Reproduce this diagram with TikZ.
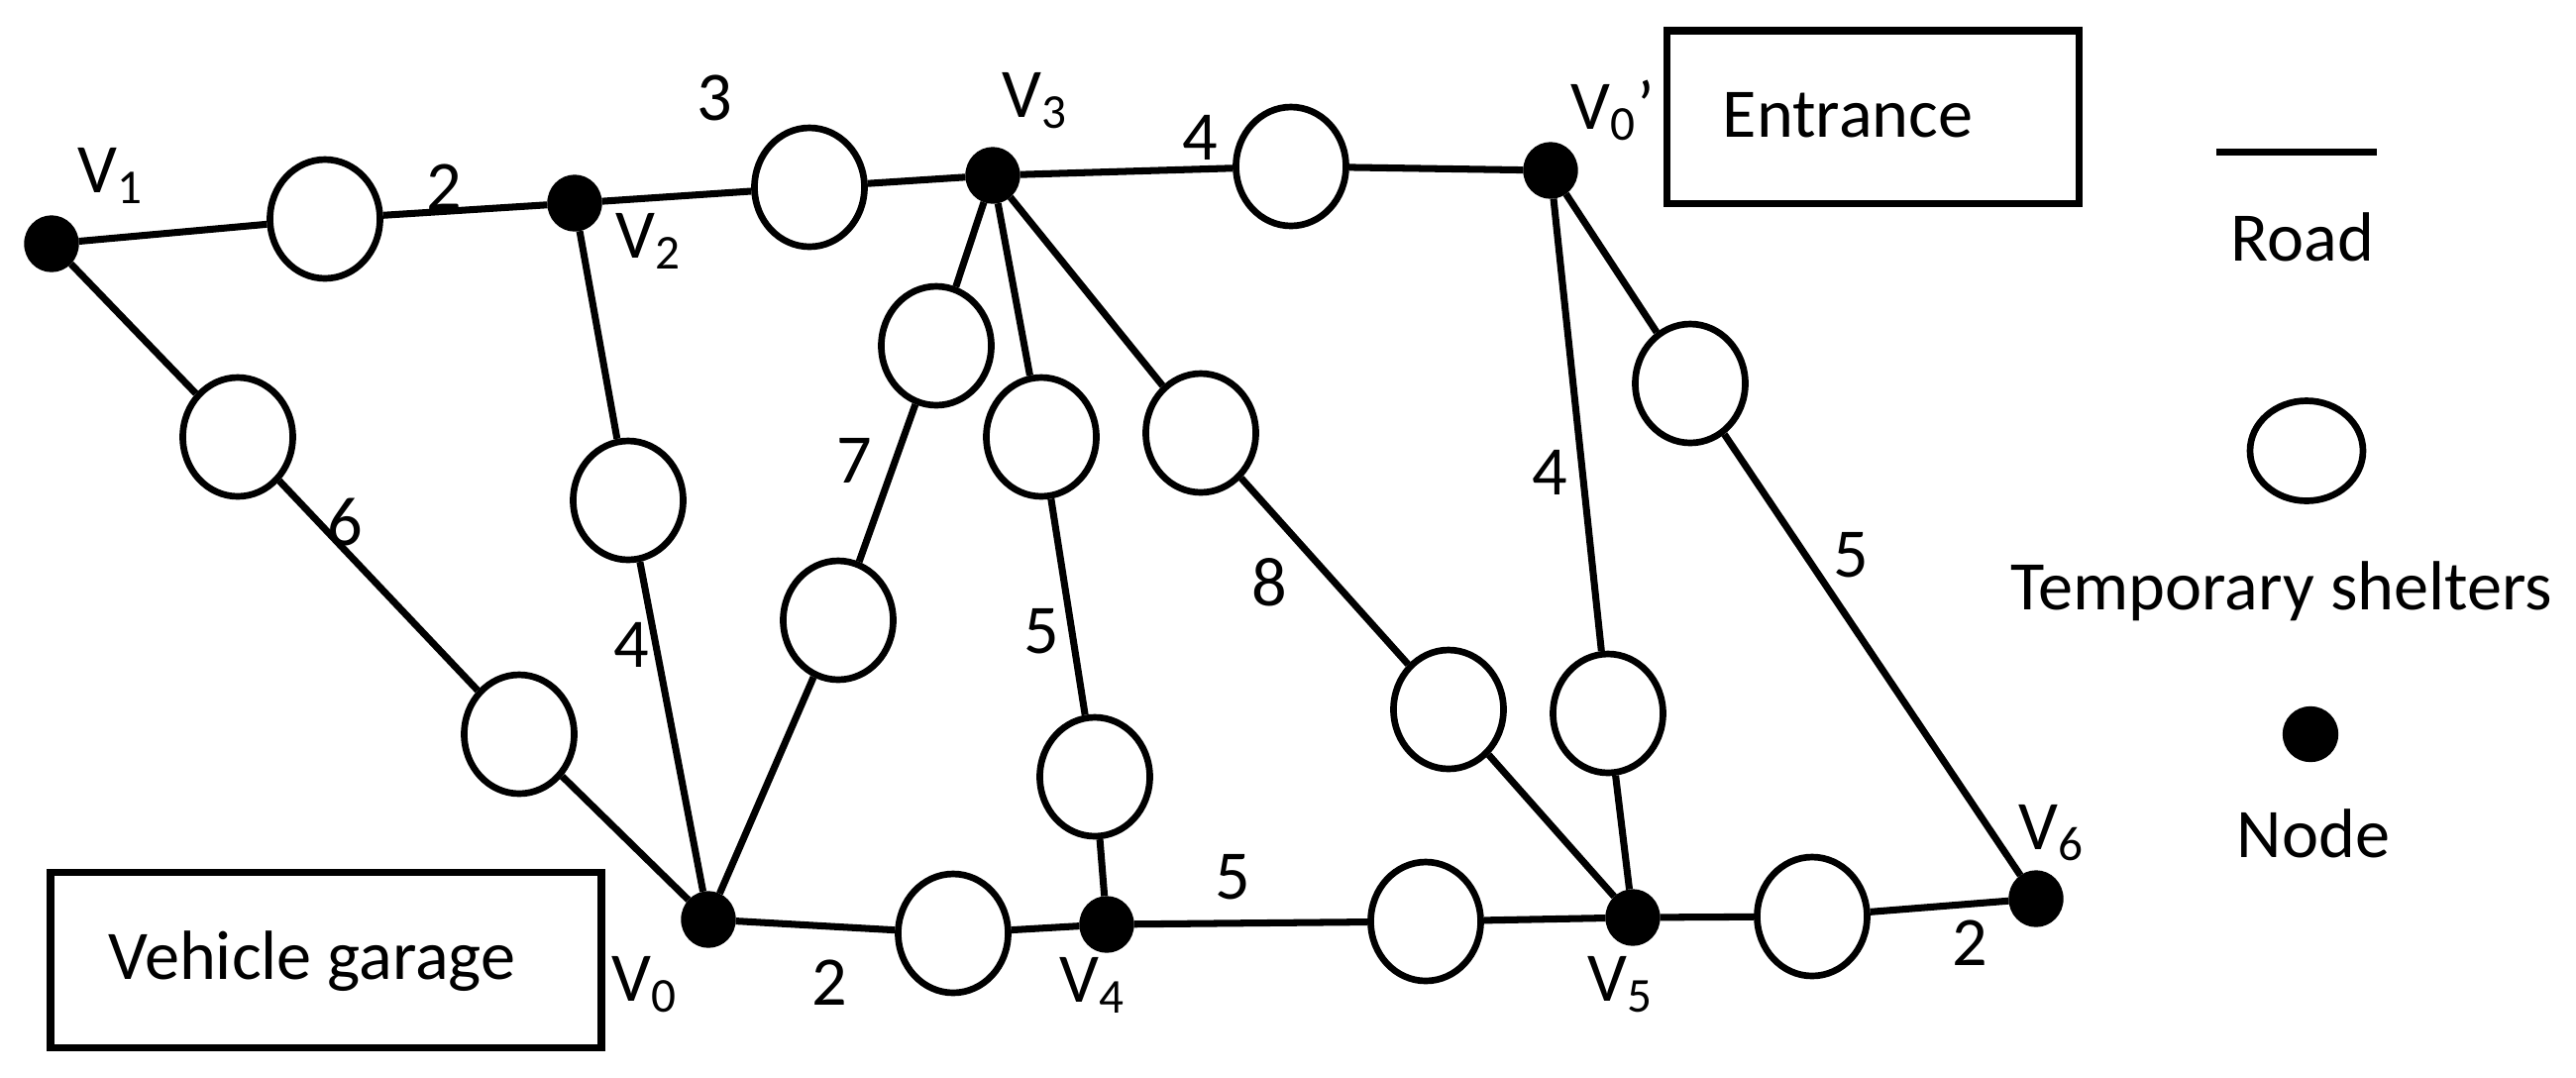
\documentclass[tikz,border=0pt]{standalone}
\usepackage{fontspec}
\setmainfont{Carlito}
\usetikzlibrary{shapes.geometric}
\begin{document}
\begin{tikzpicture}[
  vtx/.style={ellipse, fill=black, draw=black, minimum width=0.54cm, minimum height=0.56cm, inner sep=0pt},
  legvtx/.style={circle, fill=black, draw=black, minimum size=0.55cm, inner sep=0pt},
  shelter/.style={ellipse, draw=black, line width=1.9pt, fill=white, minimum width=1.11cm, minimum height=1.20cm, inner sep=0pt},
  legshelter/.style={ellipse, draw=black, line width=1.9pt, fill=white, minimum width=1.14cm, minimum height=1.01cm, inner sep=0pt},
  road/.style={line width=2pt},
  lbl/.style={font=\fontsize{20}{24}\selectfont, inner sep=0pt},
  boxframe/.style={draw=black, line width=2pt, inner sep=0pt},
]
\useasboundingbox (0,0) rectangle (26,-10.87);

% vertices
\node[vtx] (V1) at (0.52,-2.46) {};
\node[vtx] (V2) at (5.80,-2.05) {};
\node[vtx] (V3) at (10.02,-1.77) {};
\node[vtx] (V0p) at (15.65,-1.72) {};
\node[vtx] (V0) at (7.15,-9.28) {};
\node[vtx] (V4) at (11.17,-9.33) {};
\node[vtx] (V5) at (16.48,-9.26) {};
\node[vtx] (V6) at (20.55,-9.07) {};

% shelters
\node[shelter] (s12) at (3.28,-2.21) {};
\node[shelter] (s23) at (8.17,-1.89) {};
\node[shelter] (s30p) at (13.03,-1.68) {};
\node[shelter] (s10a) at (2.40,-4.41) {};
\node[shelter] (s10b) at (5.24,-7.41) {};
\node[shelter] (s20) at (6.34,-5.05) {};
\node[shelter] (s30a) at (9.45,-3.49) {};
\node[shelter] (s30b) at (8.46,-6.26) {};
\node[shelter] (s34a) at (10.51,-4.41) {};
\node[shelter] (s34b) at (11.05,-7.84) {};
\node[shelter] (s35a) at (12.12,-4.37) {};
\node[shelter] (s35b) at (14.62,-7.16) {};
\node[shelter] (s0p5) at (16.23,-7.20) {};
\node[shelter] (s0p6) at (17.06,-3.87) {};
\node[shelter] (s04) at (9.62,-9.42) {};
\node[shelter] (s45) at (14.39,-9.30) {};
\node[shelter] (s56) at (18.29,-9.25) {};

% roads
\draw[road] (V1) -- (s12) -- (V2) -- (s23) -- (V3) -- (s30p) -- (V0p);
\draw[road] (V1) -- (s10a) -- (s10b) -- (V0);
\draw[road] (V2) -- (s20) -- (V0);
\draw[road] (V3) -- (s30a) -- (s30b) -- (V0);
\draw[road] (V3) -- (s34a) -- (s34b) -- (V4);
\draw[road] (V3) -- (s35a) -- (s35b) -- (V5);
\draw[road] (V0p) -- (s0p5) -- (V5);
\draw[road] (V0p) -- (s0p6) -- (V6);
\draw[road] (V0) -- (s04) -- (V4) -- (s45) -- (V5) -- (s56) -- (V6);

% vertex labels
\node[lbl] (lV1) at (1.12,-1.77) {V\textsubscript{1}};
\node[lbl] (lV2) at (6.55,-2.43) {V\textsubscript{2}};
\node[lbl] (lV3) at (10.45,-1.02) {V\textsubscript{3}};
\node[lbl] (lV0p) at (16.28,-1.11) {V\textsubscript{0}’};
\node[lbl] (lV0) at (6.51,-9.94) {V\textsubscript{0}};
\node[lbl] (lV4) at (11.03,-9.94) {V\textsubscript{4}};
\node[lbl] (lV5) at (16.36,-9.94) {V\textsubscript{5}};
\node[lbl] (lV6) at (20.71,-8.41) {V\textsubscript{6}};

% weights
\node[lbl] (w12) at (4.48,-1.89) {2};
\node[lbl] (w23) at (7.21,-0.99) {3};
\node[lbl] (w30p) at (12.11,-1.39) {4};
\node[lbl] (w10) at (3.48,-5.27) {6};
\node[lbl] (w20) at (6.37,-6.51) {4};
\node[lbl] (w30) at (8.62,-4.65) {7};
\node[lbl] (w34) at (10.51,-6.37) {5};
\node[lbl] (w35) at (12.81,-5.88) {8};
\node[lbl] (w0p5) at (15.64,-4.77) {4};
\node[lbl] (w0p6) at (18.68,-5.60) {5};
\node[lbl] (w04) at (8.37,-9.92) {2};
\node[lbl] (w45) at (12.44,-8.85) {5};
\node[lbl] (w56) at (19.88,-9.52) {2};

% boxes
\node[boxframe, minimum width=4.16cm, minimum height=1.74cm] (entbox) at (18.90,-1.18) {};
\node[lbl] (ent) at (18.65,-1.16) {Entrance};
\node[boxframe, minimum width=5.56cm, minimum height=1.77cm] (garbox) at (3.29,-9.685) {};
\node[lbl] (gar) at (3.15,-9.70) {Vehicle garage};

% legend
\coordinate (r1) at (22.37,-1.53);
\coordinate (r2) at (23.99,-1.53);
\draw[road] (r1) -- (r2);
\node[lbl] (lroad) at (23.24,-2.39) {Road};
\node[legshelter] (lsh) at (23.28,-4.55) {};
\node[lbl] (ltemp) at (23.03,-5.97) {Temporary shelters};
\node[legvtx] (lnode) at (23.32,-7.41) {};
\node[lbl] (lnodet) at (23.35,-8.41) {Node};
\end{tikzpicture}
\end{document}
